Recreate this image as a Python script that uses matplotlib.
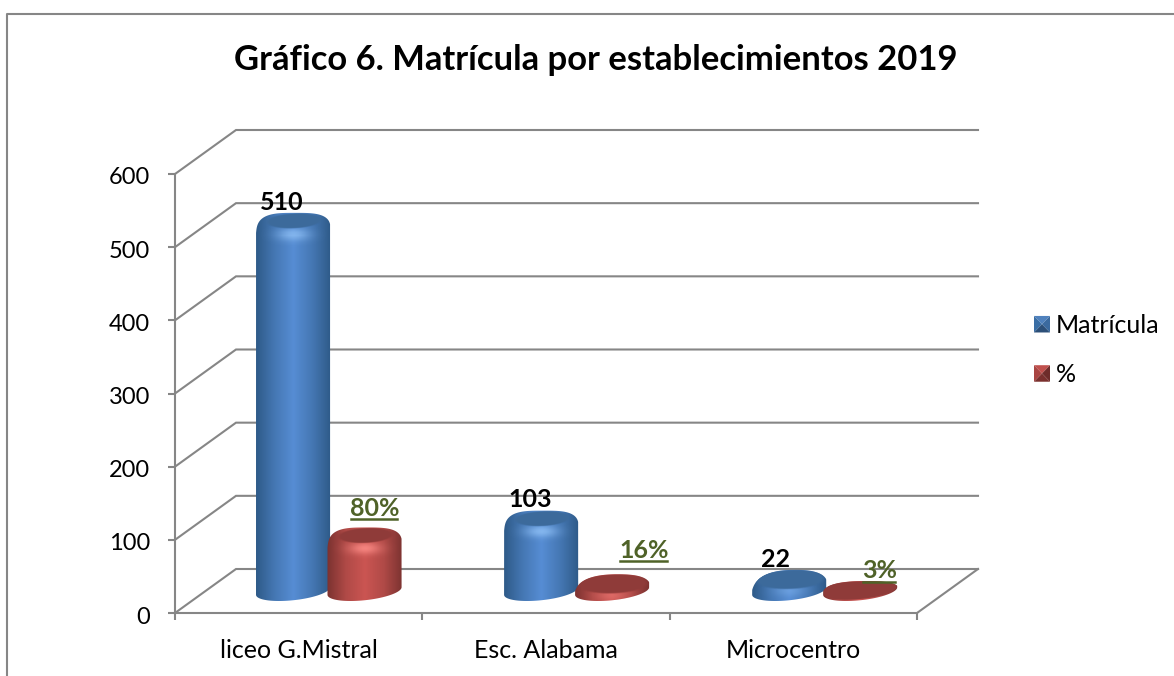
import numpy as np
import matplotlib
matplotlib.use("Agg")
import matplotlib.pyplot as plt
from matplotlib.colors import LinearSegmentedColormap, to_rgb
from matplotlib.legend_handler import HandlerBase
from matplotlib.lines import Line2D
from matplotlib.patches import Patch, Polygon
from matplotlib.transforms import ScaledTranslation

plt.rcParams['font.family'] = ['Lato', 'DejaVu Sans']

# data
categories = ['liceo G.Mistral', 'Esc. Alabama', 'Microcentro']
matricula = [510, 103, 22]
porcentaje = [80, 16, 3]
y_ticks = [0, 100, 200, 300, 400, 500, 600]
title = 'Gráfico 6. Matrícula por establecimientos 2019'

# label offsets from the top of each cylinder, in pixels
blue_label_off = [(-11, 10), (-11, 11), (-14, 10)]
red_label_off = [(10, 19), (32, 24), (19, 10)]

W, H = 1174, 676
AX_L, AX_R, AX_T, AX_B = 175, 917, 174, 613
GRID = '#868686'
GREEN = '#4f6228'

fig = plt.figure(figsize=(W / 100, H / 100), dpi=100, facecolor='white')
ax = fig.add_axes([AX_L / W, 1 - AX_B / H, (AX_R - AX_L) / W, (AX_B - AX_T) / H])
ax.set_facecolor('none')

# pixels -> data units
XU = 3 / (AX_R - AX_L)
YU = 600 / (AX_B - AX_T)
DEPTH_X = 61 * XU
DEPTH_Y = 44 * YU


def draw_walls():
    for v in y_ticks:
        ax.plot([0, DEPTH_X, 3 + DEPTH_X], [v, v + DEPTH_Y, v + DEPTH_Y],
                color=GRID, lw=1.5, clip_on=False, zorder=1, solid_joinstyle='miter')
    ax.plot([3, 3 + DEPTH_X], [0, DEPTH_Y], color=GRID, lw=1.5, clip_on=False, zorder=1)


def cylinder(x, v, dark, mid, light, cap_col, glow):
    # everything is built in pixels around the centre of the base, then scaled
    cx = x + DEPTH_X / 2
    cy = DEPTH_Y / 2
    a, s, c = 34.3, 14.0, 10.0
    top = max(v / YU + 5, c)
    shoulder = max(top - 20, 0)
    h = top - shoulder
    t0 = np.arctan2(s, a)

    # upper arc, squarer than an ellipse
    th = np.linspace(0, np.pi, 80)
    tall = top > 30
    ux = np.sign(np.cos(th)) * np.abs(np.cos(th)) ** (0.6 if tall else 0.8) * 37
    uy = np.sin(th) ** (0.65 if tall else 0.8) * h
    ux = np.clip(ux + uy / max(h, 1) * (2 if tall else 6), -37, 37)
    uy = uy + shoulder
    # lower arc of the base ellipse
    tb = np.linspace(t0 + np.pi, t0 + 2 * np.pi, 60)
    bx = a * np.cos(tb) + s * np.sin(tb)
    by = c * np.sin(tb)
    px = np.r_[ux, bx]
    py = np.r_[uy, by]
    outline = Polygon(np.c_[cx + px * XU, cy + py * YU], closed=True, fc='none', ec='none')
    ax.add_patch(outline)

    box = [cx - 38 * XU, cx + 38 * XU, cy - 11 * YU, cy + (top + 1) * YU]
    cmap = LinearSegmentedColormap.from_list('side', [dark, mid, light, mid, dark])
    grad = np.linspace(0, 1, 128).reshape(1, -1)
    im = ax.imshow(grad, cmap=cmap, extent=box, aspect='auto', zorder=3,
                   interpolation='bilinear', clip_on=True)
    im.set_clip_path(outline)

    if top <= c + 1:
        # practically no height: only the flat lid shows
        lid = Polygon(np.c_[cx + px * 0.98 * XU, cy + (py + 0.6) * 0.92 * YU], closed=True,
                      fc=cap_col, ec='none', zorder=4.5)
        ax.add_patch(lid)
        return

    # soft highlight under the lid
    gx = np.linspace(-38, 38, 100)
    gy = np.linspace(-11, top + 1, 120)
    xx, yy = np.meshgrid(gx, gy)
    ga = np.exp(-((xx / 16) ** 2 + ((yy - (top - 21)) / 6) ** 2)) * (0.8 if tall else 0.35)
    rgba = np.zeros(ga.shape + (4,))
    rgba[..., :3] = to_rgb(glow)
    rgba[..., 3] = ga
    im2 = ax.imshow(rgba, extent=box, origin='lower', aspect='auto', zorder=4,
                    interpolation='bilinear')
    im2.set_clip_path(outline)

    # band that rounds off the shoulder
    tt = np.linspace(0, 2 * np.pi, 80)
    lid_y = top - (8 if tall else 9.5)
    lid_a, lid_c = (25, 7) if tall else (32, 9)
    for k, al in zip([1.12, 1.06, 1.0], [0.3, 0.5, 1.0]):
        lx = (lid_a * np.cos(tt) + 4 * np.sin(tt)) * k
        ly = lid_c * np.sin(tt) * k
        lid = Polygon(np.c_[cx + (lx + 1) * XU, cy + (ly + lid_y) * YU], closed=True,
                      fc=cap_col, ec='none', alpha=al, zorder=4.5)
        ax.add_patch(lid)
        lid.set_clip_path(outline)


blue = dict(dark='#2d5986', mid='#4577b3', light='#568dd4', cap_col='#3c6a9b', glow='#8fc0f5')
red = dict(dark='#7b3230', mid='#b04a47', light='#cb5552', cap_col='#8f3b39', glow='#ff8f8a')

draw_walls()

pos = np.arange(len(categories))
blue_x = [0.354, 1.357, 2.360]
red_x = [0.643, 1.644, 2.647]
for x, v in zip(blue_x, matricula):
    cylinder(x, v, **blue)
for x, v in zip(red_x, porcentaje):
    cylinder(x, v, **red)

ax.set_xlim(0, 3)
ax.set_ylim(0, 600)

# axes
for side in ['top', 'right']:
    ax.spines[side].set_visible(False)
for side in ['left', 'bottom']:
    ax.spines[side].set_color(GRID)
    ax.spines[side].set_linewidth(1.5)
ax.spines['bottom'].set_zorder(2)
ax.set_yticks(y_ticks)
ax.set_xticks([0, 1, 2, 3])
ax.set_xticklabels([])
ax.set_xticks(pos + 0.5, categories, minor=True)
ax.tick_params(axis='both', which='major', length=5, width=1.5, color=GRID)
ax.tick_params(axis='y', labelsize=17, pad=13, labelcolor='black')
ax.tick_params(axis='x', which='minor', length=0, labelsize=18, pad=19, labelcolor='black')
for lab in ax.get_yticklabels():
    lab.set_transform(lab.get_transform() + ScaledTranslation(0, -2 / 100, fig.dpi_scale_trans))

# value labels
fig.canvas.draw()
rend = fig.canvas.get_renderer()
for x, v, off in zip(blue_x, matricula, blue_label_off):
    ax.annotate(str(v), xy=(x + DEPTH_X / 2, DEPTH_Y / 2 + v + 5 * YU), xytext=(off[0] * 0.72, off[1] * 0.72),
                textcoords='offset points', ha='center', va='center', fontsize=18,
                fontweight='bold', color='black', zorder=8, annotation_clip=False)
for x, v, off in zip(red_x, porcentaje, red_label_off):
    lift = max(v / YU + 5, 10)
    t = ax.annotate(f'{v}%', xy=(x + DEPTH_X / 2, DEPTH_Y / 2 + lift * YU),
                    xytext=(off[0] * 0.72, off[1] * 0.72), textcoords='offset points',
                    ha='center', va='center', fontsize=18, fontweight='bold', color=GREEN,
                    zorder=8, annotation_clip=False)
    bb = t.get_window_extent(rend)
    fig.add_artist(Line2D([(bb.x0 + 1) / W, (bb.x1 - 2) / W], [(bb.y0 + 1) / H, (bb.y0 + 1) / H],
                          color=GREEN, lw=1.8, zorder=8))


class PyramidHandler(HandlerBase):
    def __init__(self, shades):
        super().__init__()
        self.shades = shades

    def create_artists(self, legend, orig, xd, yd, w, h, fs, trans):
        x0, y0, x1, y1 = -xd, -yd, -xd + w, -yd + h
        xc, yc = (x0 + x1) / 2, (y0 + y1) / 2
        tris = [[(x0, y1), (x1, y1), (xc, yc)], [(x0, y0), (x0, y1), (xc, yc)],
                [(x1, y0), (x1, y1), (xc, yc)], [(x0, y0), (x1, y0), (xc, yc)]]
        return [Polygon(p, closed=True, fc=c, ec='none', transform=trans)
                for p, c in zip(tris, self.shades)]


handles = [Patch(label='Matrícula'), Patch(label='%')]
fig.legend(handles=handles, labels=['Matrícula', '%'], frameon=False, loc='upper left',
           bbox_to_anchor=(1034 / W, 1 - 314 / H), borderpad=0, borderaxespad=0,
           fontsize=18, labelspacing=1.05, handlelength=0.64, handleheight=0.64, handletextpad=0.22,
           handler_map={handles[0]: PyramidHandler(['#4f81bd', '#3a6ea5', '#3b6a9f', '#2c4f78']),
                        handles[1]: PyramidHandler(['#c0504d', '#a94542', '#6e2c2a', '#7a302e'])})

fig.text(596 / W, 1 - 60 / H, title, ha='center', va='center', fontsize=24.9, fontweight='bold', color='black')

# chart frame
fig.add_artist(Line2D([7 / W, 7 / W, 1 / 1], [0, 1 - 14 / H, 1 - 14 / H], color=GRID, lw=1.5))

fig.savefig('out.png', dpi=100)
